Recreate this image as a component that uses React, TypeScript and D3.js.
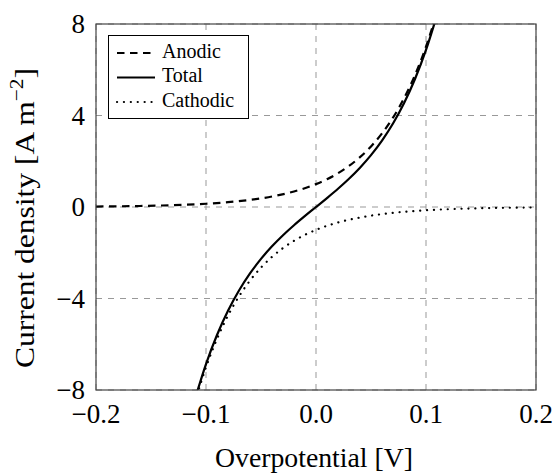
import React from "react";
import * as d3 from "d3";

const xTicks = [-0.2, -0.1, 0.0, 0.1, 0.2];
const yTicks = [-8, -4, 0, 4, 8];

const anodicEta = [-0.2, -0.18, -0.16, -0.14, -0.12, -0.1, -0.08, -0.06, -0.04, -0.02, 0, 0.01, 0.02, 0.03, 0.04, 0.05, 0.06, 0.07, 0.08, 0.09, 0.1, 0.11];
const anodicVal = [0.02, 0.03, 0.044, 0.066, 0.097, 0.143, 0.211, 0.311, 0.459, 0.678, 1.0, 1.215, 1.476, 1.793, 2.179, 2.647, 3.216, 3.907, 4.748, 5.768, 7.008, 8.51];

const cathodicEta = [-0.11, -0.1, -0.09, -0.08, -0.07, -0.06, -0.05, -0.04, -0.03, -0.02, -0.01, 0, 0.02, 0.04, 0.06, 0.08, 0.1, 0.12, 0.14, 0.16, 0.18, 0.2];
const cathodicVal = [-8.51, -7.008, -5.768, -4.748, -3.907, -3.216, -2.647, -2.179, -1.793, -1.476, -1.215, -1.0, -0.678, -0.459, -0.311, -0.211, -0.143, -0.097, -0.066, -0.044, -0.03, -0.02];

const totalEta = [-0.11, -0.1, -0.09, -0.08, -0.07, -0.06, -0.05, -0.04, -0.03, -0.02, -0.01, 0, 0.01, 0.02, 0.03, 0.04, 0.05, 0.06, 0.07, 0.08, 0.09, 0.1, 0.11];
const totalVal = [-8.39, -6.865, -5.595, -4.537, -3.651, -2.905, -2.269, -1.72, -1.235, -0.798, -0.392, 0, 0.392, 0.798, 1.235, 1.72, 2.269, 2.905, 3.651, 4.537, 5.595, 6.865, 8.39];

const legendLabels = ["Anodic", "Total", "Cathodic"];

const FONT = "'Liberation Serif', 'DejaVu Serif', serif";

export default function App() {
  const W = 553, H = 473;
  const L = 96, R = 536, T = 24, B = 390;
  const x = d3.scaleLinear().domain([-0.2, 0.2]).range([L, R]);
  const y = d3.scaleLinear().domain([-8, 8]).range([B, T]);
  const line = d3.line<[number, number]>().x(d => x(d[0])).y(d => y(d[1])).curve(d3.curveMonotoneX);
  const zip = (a: number[], b: number[]) => a.map((v, i) => [v, b[i]] as [number, number]);
  const fmt = (v: number) => (v < 0 ? "\u2212" : "") + Math.abs(v).toFixed(1);
  const fmtY = (v: number) => (v < 0 ? "\u2212" : "") + Math.abs(v);

  const DASH = "7.5,5.5";
  const DOT = "0.1,6.8";
  const styles = [
    { dash: DASH, cap: "butt" },
    { dash: "none", cap: "butt" },
    { dash: DOT, cap: "round" },
  ];

  return (
    <svg width={W} height={H} style={{ position: "absolute", left: 0, top: 0 }} fontFamily={FONT}>
      <defs>
        <clipPath id="plotclip">
          <rect x={L} y={T} width={R - L} height={B - T} />
        </clipPath>
      </defs>
      <rect x={0} y={0} width={W} height={H} fill="white" />
      {/* grid */}
      {xTicks.map((t, i) => (
        <line key={"gx" + i} x1={x(t)} x2={x(t)} y1={T} y2={B} stroke="#999" strokeWidth={1} strokeDasharray="6,6" />
      ))}
      {yTicks.map((t, i) => (
        <line key={"gy" + i} x1={L} x2={R} y1={y(t)} y2={y(t)} stroke="#999" strokeWidth={1} strokeDasharray="6,6" />
      ))}
      {/* curves */}
      <g clipPath="url(#plotclip)" fill="none" stroke="black" strokeWidth={2.2}>
        <path d={line(zip(anodicEta, anodicVal)) || ""} strokeDasharray={DASH} />
        <path d={line(zip(totalEta, totalVal)) || ""} />
        <path d={line(zip(cathodicEta, cathodicVal)) || ""} strokeDasharray={DOT} strokeLinecap="round" />
      </g>
      {/* frame */}
      <rect x={L} y={T} width={R - L} height={B - T} fill="none" stroke="#444" strokeWidth={1.2} />
      {/* tick labels */}
      {xTicks.map((t, i) => (
        <text key={"tx" + i} x={x(t)} y={423} textAnchor="middle" fontSize={27}>{fmt(t)}</text>
      ))}
      {yTicks.map((t, i) => (
        <text key={"ty" + i} x={85} y={y(t) + 9} textAnchor="end" fontSize={27}>{fmtY(t)}</text>
      ))}
      {/* axis titles */}
      <text x={314} y={467} textAnchor="middle" fontSize={28} textLength={198} lengthAdjust="spacingAndGlyphs">Overpotential [V]</text>
      <text transform={`translate(34,218) rotate(-90)`} textAnchor="middle" fontSize={28} textLength={300} lengthAdjust="spacingAndGlyphs">
        Current density [A m<tspan dy={-11} fontSize={19}>{"\u22122"}</tspan><tspan dy={11}>]</tspan>
      </text>
      {/* legend */}
      <rect x={108.5} y={35.5} width={140} height={83} fill="white" stroke="black" strokeWidth={1} />
      {legendLabels.map((lab, i) => {
        const ly = 53 + i * 24.5;
        return (
          <g key={"lg" + i}>
            <line x1={117} x2={155} y1={ly} y2={ly} stroke="black" strokeWidth={2.2}
              strokeDasharray={styles[i].dash} strokeLinecap={styles[i].cap as any} />
            <text x={162} y={ly + 4.5} fontSize={20}>{lab}</text>
          </g>
        );
      })}
    </svg>
  );
}
